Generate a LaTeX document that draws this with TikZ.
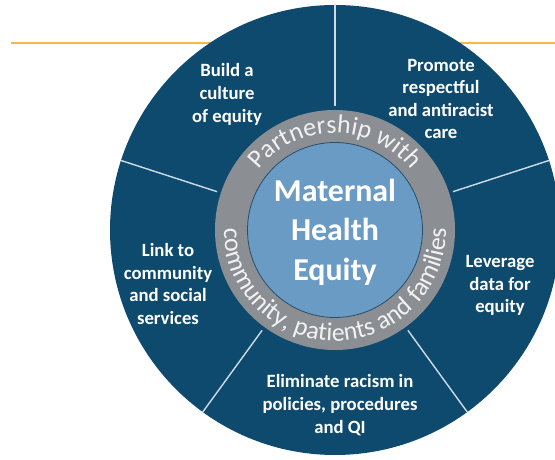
\documentclass[tikz,border=0pt]{standalone}
\usepackage{fontspec}
\setmainfont{Carlito}
\usetikzlibrary{decorations.text}

\definecolor{navy}{RGB}{14,74,110}
\definecolor{ringgray}{RGB}{139,142,146}
\definecolor{coreblue}{RGB}{106,155,196}
\definecolor{coreline}{RGB}{38,78,108}
\definecolor{divline}{RGB}{205,220,232}
\definecolor{rulecol}{RGB}{247,182,82}
\definecolor{ringtext}{RGB}{242,242,242}

\newcommand\ringfont{\fontsize{26}{26}\selectfont}

\begin{document}
\begin{tikzpicture}[x=1bp,y=1bp,
  seg/.style={text=white, font=\bfseries\fontsize{18.8}{22.7}\selectfont, align=center, inner sep=0pt},
  core/.style={text=white, font=\bfseries\fontsize{32}{39.5}\selectfont, align=center, inner sep=0pt},
  divider/.style={draw=divline, line width=1.4bp},
  rule/.style={draw=rulecol, line width=2bp},
]
\useasboundingbox (0,0) rectangle (555,460);

% horizontal rule behind the wheel
\coordinate (ruleL) at (11,417);
\coordinate (ruleR) at (555,417);
\draw[rule] (ruleL) -- (ruleR);

% outer wheel
\coordinate (c) at (335,230);
\fill[navy] (c) circle[radius=225];

% five spokes
\foreach \a in {90,162,234,306,18}
  \draw[divider] ([shift={(\a:124)}]c) -- ([shift={(\a:225)}]c);

% partnership ring and core
\fill[ringgray] (c) circle[radius=120];
\filldraw[fill=coreblue, draw=coreline, line width=0.8bp] (c) circle[radius=87.5];

% ring lettering
\path[decorate, decoration={text along path, text color=ringtext,
    text={|\ringfont|Partnership with}, text align=center}]
  ([shift={(180:97)}]c) arc[start angle=180, end angle=0, radius=97];
\path[decorate, decoration={text along path, text color=ringtext,
    text={|\ringfont|community, patients and families}, text align=center}]
  ([shift={(180:111)}]c) arc[start angle=180, end angle=360, radius=111];

% core label
\node[core] (mhe) at (335,228) {Maternal\\Health\\Equity};

% segment labels
\node[seg] (culture) at (227,365.5) {Build a\\culture\\of equity};
\node[seg] (care) at (441,361) {Promote\\respectful\\and antiracist\\care};
\node[seg] (data) at (500,174.5) {Leverage\\data for\\equity};
\node[seg] (link) at (168,176) {Link to\\community\\and social\\services};
\node[seg] (racism) at (340,55) {Eliminate racism in\\policies, procedures\\and QI};
\end{tikzpicture}
\end{document}
